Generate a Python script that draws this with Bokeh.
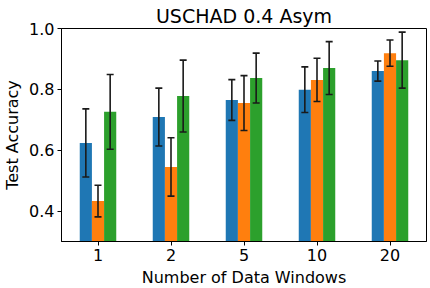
from bokeh.plotting import figure
from bokeh.models import ColumnDataSource, FixedTicker, Range1d
from bokeh.embed import file_html
from bokeh.resources import INLINE

groups = ["1", "2", "5", "10", "20"]
series_a = [0.624, 0.709, 0.765, 0.799, 0.860]
series_a_err = [0.112, 0.095, 0.067, 0.075, 0.033]
series_b = [0.433, 0.545, 0.755, 0.831, 0.919]
series_b_err = [0.052, 0.096, 0.090, 0.071, 0.043]
series_c = [0.726, 0.778, 0.837, 0.870, 0.896]
series_c_err = [0.123, 0.118, 0.082, 0.087, 0.092]
colors = ["#1f77b4", "#ff7f0e", "#2ca02c"]

FONT = "DejaVu Sans"
bar_w = 1 / 6
ERR_COLOR = "#1a1a1a"

p = figure(
    output_backend="svg", toolbar_location=None,
    frame_width=365, frame_height=213,
    min_border_left=51, min_border_right=6, min_border_top=0, min_border_bottom=40,
    x_range=Range1d(-0.5, 4.5), y_range=Range1d(0.3, 1.0),
    title="USCHAD 0.4 Asym",
)
p.title.align = "center"
p.title.text_font = FONT
p.title.text_font_size = "19px"
p.title.text_font_style = "normal"
p.title.text_color = "black"
p.title.standoff = 4
p.title.offset = 0

series = [(series_a, series_a_err), (series_b, series_b_err), (series_c, series_c_err)]
for i, (vals, errs) in enumerate(series):
    xs = [g + (i - 1) * bar_w for g in range(len(groups))]
    src = ColumnDataSource(dict(
        x=xs, top=vals,
        upper=[v + e for v, e in zip(vals, errs)],
        lower=[v - e for v, e in zip(vals, errs)],
    ))
    p.vbar(x="x", top="top", bottom=0, width=bar_w, source=src,
           fill_color=colors[i], line_color=None)
    p.segment(x0="x", y0="lower", x1="x", y1="upper", source=src,
              line_color=ERR_COLOR, line_width=1.6)
    p.scatter(x="x", y="upper", source=src, marker="dash", size=7,
              line_color=ERR_COLOR, line_width=1.6)
    p.scatter(x="x", y="lower", source=src, marker="dash", size=7,
              line_color=ERR_COLOR, line_width=1.6)

p.xgrid.visible = False
p.ygrid.visible = False
p.outline_line_color = "black"
p.outline_line_width = 1

p.xaxis.ticker = FixedTicker(ticks=list(range(len(groups))))
p.xaxis.major_label_overrides = {i: g for i, g in enumerate(groups)}
p.yaxis.ticker = FixedTicker(ticks=[0.4, 0.6, 0.8, 1.0])
p.yaxis.major_label_overrides = {0.4: "0.4", 0.6: "0.6", 0.8: "0.8", 1.0: "1.0"}

p.xaxis.axis_label = "Number of Data Windows"
p.yaxis.axis_label = "Test Accuracy"
for ax in (p.xaxis[0], p.yaxis[0]):
    ax.axis_label_text_font = FONT
    ax.axis_label_text_font_size = "16px"
    ax.axis_label_text_font_style = "normal"
    ax.axis_label_text_color = "black"
    ax.major_label_text_font = FONT
    ax.major_label_text_font_size = "16px"
    ax.major_label_text_color = "black"
    ax.minor_tick_line_color = None
    ax.major_tick_out = 4
    ax.major_tick_in = 0
    ax.major_tick_line_color = "black"
    ax.axis_line_color = "black"
    ax.major_label_standoff = 3
    ax.axis_label_standoff = 4

open("out.html", "w").write(file_html(p, INLINE))
